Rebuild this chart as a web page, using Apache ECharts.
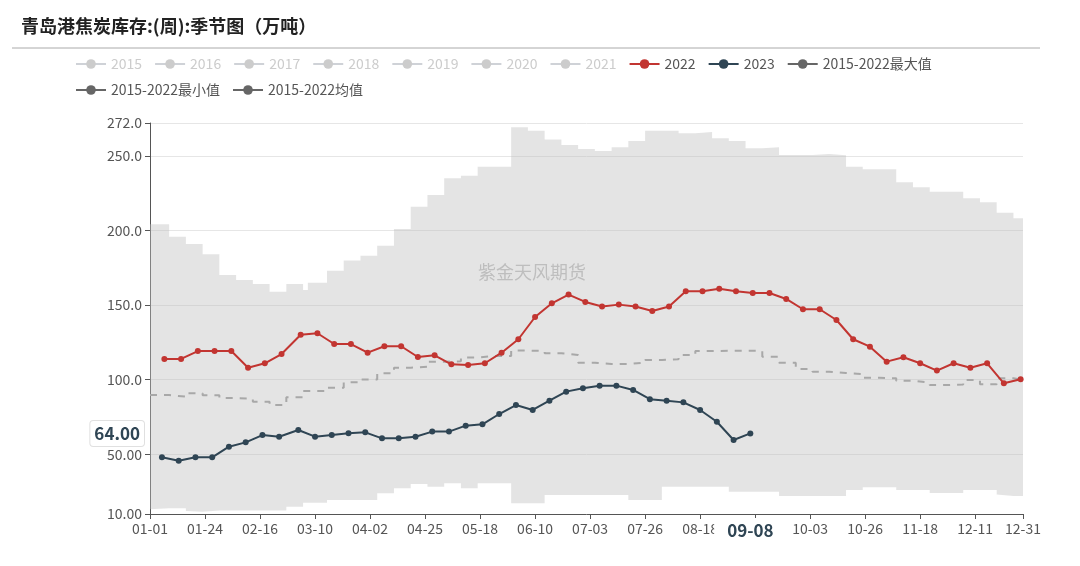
<!DOCTYPE html>
<html>
<head>
<meta charset="utf-8">
<title>青岛港焦炭库存</title>
<script src="https://cdn.jsdelivr.net/npm/echarts@6/dist/echarts.min.js"></script>
<style>
    html, body {margin: 0; padding: 0; background: #fff;}
    #main {width: 1080px; height: 566px;}
</style>
</head>
<body>
<div id="main"></div>
<script>
    // 2015-2022 历史区间(周度，阶梯)
    var bandDates = ['01-01', '01-09', '01-16', '01-23', '01-30', '02-06', '02-13', '02-20', '02-27', '03-05',
        '03-07', '03-15', '03-22', '03-29', '04-05', '04-12', '04-19', '04-26', '05-03', '05-10',
        '05-17', '05-24', '05-31', '06-07', '06-14', '06-21', '06-28', '07-05', '07-12', '07-19',
        '07-26', '08-02', '08-09', '08-16', '08-23', '08-30', '09-06', '09-13', '09-20', '09-27',
        '10-04', '10-11', '10-18', '10-25', '11-01', '11-08', '11-15', '11-22', '11-29', '12-06',
        '12-13', '12-20', '12-27', '12-31'];
    var bandMax = [204.1, 195.8, 190.9, 184.0, 170.1, 166.8, 164.1, 158.9, 164.1, 160.1,
        165.0, 173.0, 179.8, 183.1, 189.8, 201.0, 215.9, 223.8, 234.9, 236.7,
        242.7, 242.7, 269.1, 266.8, 261.0, 257.3, 254.6, 253.2, 255.7, 259.9,
        266.8, 266.8, 265.1, 266.0, 261.7, 259.9, 255.0, 255.7, 250.6, 250.6,
        251.3, 250.4, 242.7, 241.0, 241.0, 232.3, 228.9, 226.0, 226.0, 221.5,
        218.9, 211.9, 208.1, 208.1];
    var bandMin = [13.1, 13.8, 12.0, 11.5, 12.3, 12.3, 12.3, 12.3, 14.9, 17.6,
        17.6, 19.4, 19.4, 19.4, 23.9, 27.2, 30.1, 28.3, 30.6, 27.2,
        30.6, 30.6, 17.2, 17.2, 22.7, 22.7, 22.7, 22.7, 22.7, 19.4,
        19.4, 28.3, 28.3, 28.3, 28.3, 24.9, 24.9, 24.9, 22.0, 22.0,
        22.0, 22.0, 26.0, 28.0, 28.0, 26.0, 26.0, 24.0, 24.0, 26.0,
        26.0, 23.0, 22.0, 22.0];
    var bandMean = [89.7, 88.6, 90.9, 89.5, 87.7, 87.3, 85.2, 83.0, 88.2, 92.4,
        92.4, 94.6, 98.2, 100.2, 104.3, 108.0, 108.7, 112.1, 112.3, 114.8,
        115.9, 115.9, 119.5, 119.2, 117.7, 116.5, 111.4, 110.5, 110.5, 111.4,
        113.2, 113.7, 116.5, 119.2, 119.4, 119.4, 119.4, 115.4, 111.4, 107.2,
        105.4, 104.5, 103.8, 101.3, 100.9, 99.3, 98.0, 96.4, 96.8, 99.8,
        96.9, 100.9, 99.8, 99.8];

    var dates2022 = ['01-07', '01-14', '01-21', '01-28', '02-04', '02-11', '02-18', '02-25', '03-04', '03-11',
        '03-18', '03-25', '04-01', '04-08', '04-15', '04-22', '04-29', '05-06', '05-13', '05-20',
        '05-27', '06-03', '06-10', '06-17', '06-24', '07-01', '07-08', '07-15', '07-22', '07-29',
        '08-05', '08-12', '08-19', '08-26', '09-02', '09-09', '09-16', '09-23', '09-30', '10-07',
        '10-14', '10-21', '10-28', '11-04', '11-11', '11-18', '11-25', '12-02', '12-09', '12-16',
        '12-23', '12-30'];
    var values2022 = [113.9, 113.9, 119.2, 119.2, 119.2, 108.0, 111.0, 117.2, 130.1, 131.1,
        123.9, 123.9, 118.1, 122.4, 122.4, 115.2, 116.3, 110.3, 109.8, 111.0,
        118.1, 127.1, 142.0, 151.2, 157.0, 152.1, 149.0, 150.3, 149.0, 146.0,
        149.0, 159.2, 159.2, 161.0, 159.2, 158.1, 158.1, 154.1, 147.2, 147.2,
        140.0, 127.1, 122.1, 112.1, 115.0, 111.0, 106.1, 111.0, 108.0, 111.0,
        97.6, 100.3];

    var dates2023 = ['01-06', '01-13', '01-20', '01-27', '02-03', '02-10', '02-17', '02-24', '03-03', '03-10',
        '03-17', '03-24', '03-31', '04-07', '04-14', '04-21', '04-28', '05-05', '05-12', '05-19',
        '05-26', '06-02', '06-09', '06-16', '06-23', '06-30', '07-07', '07-14', '07-21', '07-28',
        '08-04', '08-11', '08-18', '08-25', '09-01', '09-08'];
    var values2023 = [48.0, 45.7, 48.0, 48.0, 55.1, 58.0, 62.9, 61.8, 66.3, 61.8,
        62.9, 64.1, 64.7, 60.7, 60.7, 61.8, 65.2, 65.2, 69.2, 70.1,
        77.0, 83.0, 79.7, 85.9, 92.0, 94.2, 96.0, 96.0, 93.1, 86.9,
        85.9, 84.8, 79.7, 71.8, 59.6, 64.0];

    var hiddenYears = ['2015', '2016', '2017', '2018', '2019', '2020', '2021'];
    var yTicks = [10, 50, 100, 150, 200, 250, 272];

    // 一年的日期(含2月29日)
    var days = [];
    for (var d = new Date(Date.UTC(2020, 0, 1)); d.getUTCFullYear() === 2020; d.setUTCDate(d.getUTCDate() + 1)) {
        days.push(('0' + (d.getUTCMonth() + 1)).slice(-2) + '-' + ('0' + d.getUTCDate()).slice(-2));
    }

    function pairs(xs, ys) {
        return xs.map(function (x, i) {
            return [x, ys[i]];
        });
    }

    var font = "'Microsoft YaHei', 'Noto Sans CJK SC', sans-serif";
    var showLabel = function (i) {
        return i % 23 === 0 || i === days.length - 1;
    };

    var series = [
        {
            name: '2015-2022最小值', type: 'line', stack: 'band', step: 'end',
            data: pairs(bandDates, bandMin),
            symbol: 'circle', showSymbol: false, color: '#666',
            lineStyle: {opacity: 0}, areaStyle: {opacity: 0}, silent: true
        },
        {
            name: '2015-2022最大值', type: 'line', stack: 'band', step: 'end',
            data: pairs(bandDates, bandMax.map(function (v, i) {
                return +(v - bandMin[i]).toFixed(1);
            })),
            symbol: 'circle', showSymbol: false, color: '#666',
            lineStyle: {opacity: 0}, areaStyle: {color: 'rgba(190,190,190,0.42)', opacity: 1}, silent: true
        },
        {
            name: '2015-2022均值', type: 'line', step: 'end',
            data: pairs(bandDates, bandMean),
            symbol: 'circle', showSymbol: false, color: '#666',
            lineStyle: {color: '#a8a8a8', width: 2, type: [7, 7]}
        }
    ];
    hiddenYears.forEach(function (y) {
        series.push({name: y, type: 'line', data: [], symbol: 'circle', color: '#ccc'});
    });
    series.push({
        name: '2022', type: 'line', data: pairs(dates2022, values2022),
        symbol: 'circle', symbolSize: 6, showAllSymbol: true,
        color: '#c23531', lineStyle: {width: 2}, z: 5
    });
    series.push({
        name: '2023', type: 'line', data: pairs(dates2023, values2023),
        symbol: 'circle', symbolSize: 6, showAllSymbol: true,
        color: '#2f4554', lineStyle: {width: 2}, z: 6
    });

    var selected = {};
    hiddenYears.forEach(function (y) {
        selected[y] = false;
    });
    var legendData = hiddenYears.concat(['2022', '2023']).map(function (n) {
        return {name: n};
    }).concat(['2015-2022最大值', '2015-2022最小值', '2015-2022均值'].map(function (n) {
        return {name: n, lineStyle: {color: '#666', type: 'solid', opacity: 1, width: 2}};
    }));

    var chart = echarts.init(document.getElementById('main'));
    window.addEventListener('resize', function () {
        chart.resize();
    });
    chart.setOption({
        animation: false,
        textStyle: {fontFamily: font},
        title: {
            text: '青岛港焦炭库存:(周):季节图（万吨）',
            left: 16, top: 12,
            textStyle: {fontSize: 18, fontWeight: 'bold', color: '#222', fontFamily: font}
        },
        graphic: [
            {type: 'line', shape: {x1: 12, y1: 48, x2: 1040, y2: 48}, style: {stroke: '#aaa', lineWidth: 1}},
            {
                type: 'text', left: 478, top: 263, z: 1,
                style: {text: '紫金天风期货', font: '18px ' + font, fill: '#bdbdbd'}
            }
        ],
        legend: {
            left: 70, right: 60, top: 52,
            itemWidth: 30, itemHeight: 12, itemGap: 12,
            textStyle: {fontSize: 14, color: '#555'},
            inactiveColor: '#ccc',
            lineStyle: {type: 'solid', opacity: 1, width: 2},
            data: legendData,
            selected: selected
        },
        grid: {left: 150, right: 57, top: 123, bottom: 52},
        xAxis: {
            type: 'category',
            data: days,
            boundaryGap: false,
            axisLine: {lineStyle: {color: '#555'}},
            axisTick: {interval: showLabel, lineStyle: {color: '#555'}},
            axisLabel: {interval: showLabel, fontSize: 14, color: '#555', margin: 8},
            splitLine: {show: false},
            axisPointer: {
                show: true, status: 'show', value: days.indexOf('09-08'), triggerTooltip: false,
                lineStyle: {opacity: 0},
                label: {
                    show: true, fontSize: 17, fontWeight: 'bold', color: '#2f4554',
                    backgroundColor: '#fff', padding: [4, 13], margin: 4
                }
            }
        },
        yAxis: {
            type: 'value',
            min: yTicks[0], max: yTicks[yTicks.length - 1],
            axisLine: {show: true, lineStyle: {color: '#555'}},
            axisTick: {show: true, lineStyle: {color: '#555'}},
            axisLabel: {
                fontSize: 14, color: '#555', showMaxLabel: true, showMinLabel: true,
                formatter: function (v) {
                    return v.toPrecision(4);
                }
            },
            splitLine: {lineStyle: {color: '#e6e6e6'}},
            axisPointer: {
                show: true, status: 'show', value: values2023[values2023.length - 1], triggerTooltip: false,
                lineStyle: {opacity: 0},
                label: {
                    show: true, fontSize: 17, fontWeight: 'bold', color: '#2f4554',
                    backgroundColor: '#fff', borderColor: '#e0e0e0', borderWidth: 1,
                    padding: [4, 4], margin: 6,
                    formatter: function (p) {
                        return Number(p.value).toFixed(2);
                    }
                }
            }
        },
        series: series
    });
</script>
</body>
</html>
